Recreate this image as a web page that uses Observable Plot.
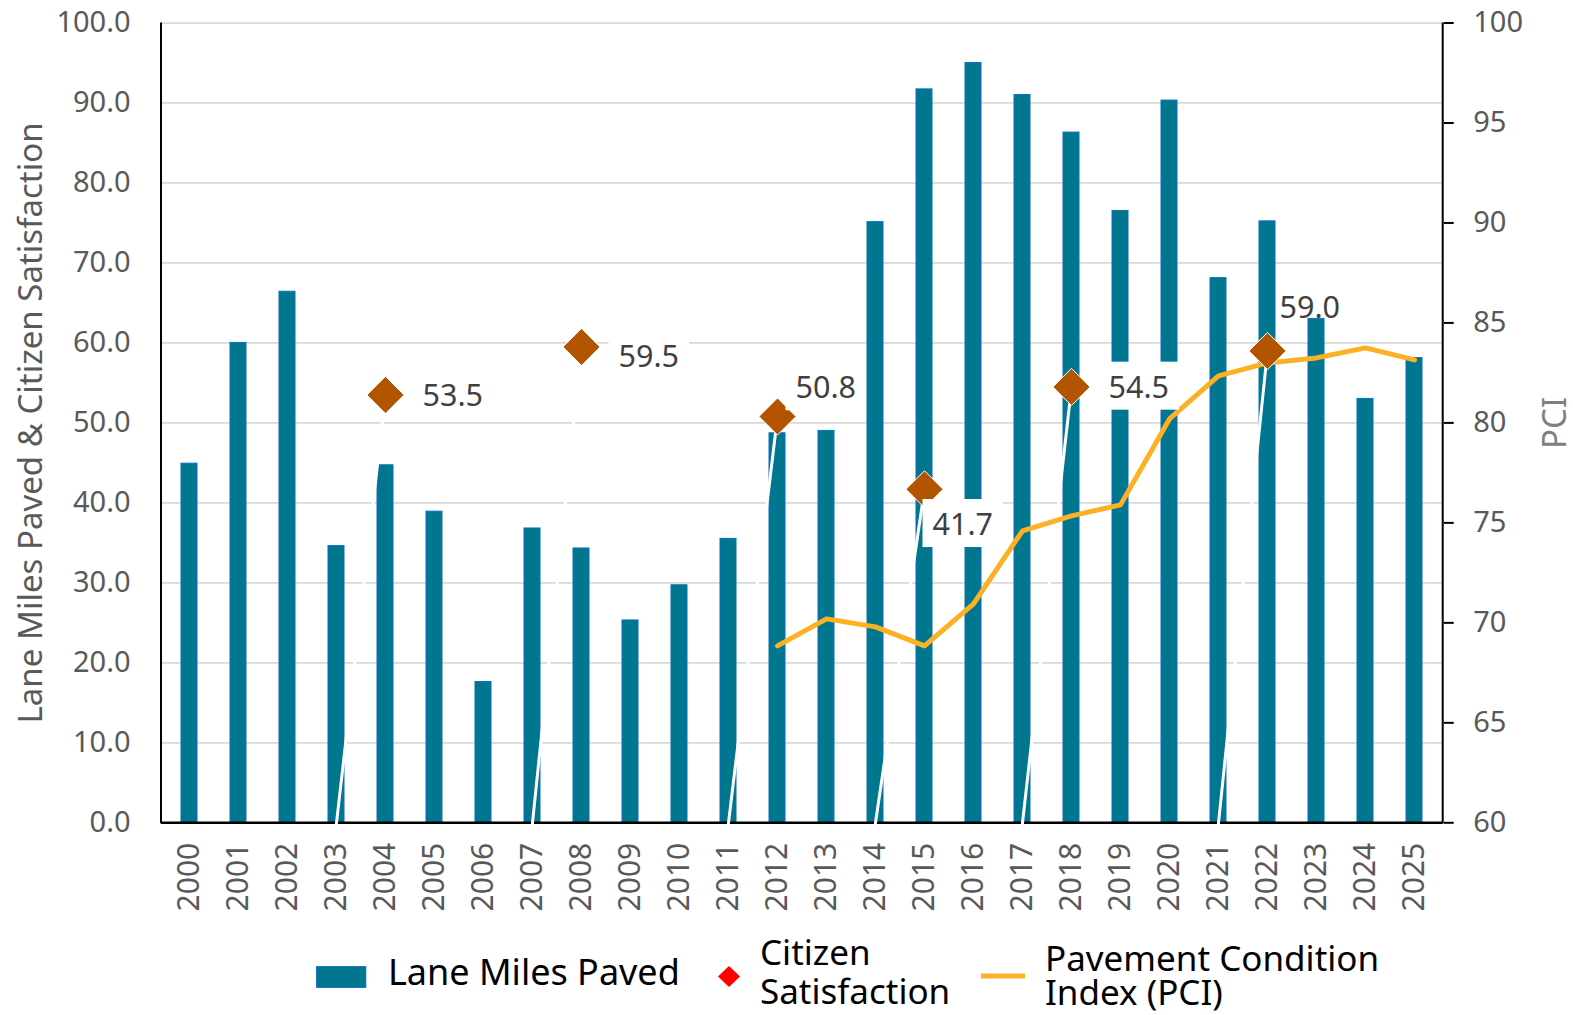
<!DOCTYPE html>
<html>
<head>
<meta charset="utf-8">
<script src="https://cdn.jsdelivr.net/npm/d3@7"></script>
<script src="https://cdn.jsdelivr.net/npm/@observablehq/plot@0.6"></script>
<style>
  html, body { margin: 0; padding: 0; background: #ffffff; }
  #chart svg { display: block; }
</style>
</head>
<body>
<div id="chart"></div>
<script>
// ---------------- DATA ----------------
const years = [2000, 2001, 2002, 2003, 2004, 2005, 2006, 2007, 2008, 2009, 2010, 2011, 2012,
               2013, 2014, 2015, 2016, 2017, 2018, 2019, 2020, 2021, 2022, 2023, 2024, 2025];
const laneMilesPaved = [44.9, 60.0, 66.4, 34.6, 44.7, 38.9, 17.6, 36.8, 34.3, 25.3, 29.7, 35.5, 48.7,
                        49.0, 75.1, 91.7, 95.0, 91.0, 86.3, 76.5, 90.3, 68.1, 75.2, 63.0, 53.0, 58.1];
const satisfactionYears = [2004, 2008, 2012, 2015, 2018, 2022];
const satisfactionValues = [53.5, 59.5, 50.8, 41.7, 54.5, 59.0];
const pciYears = [2012, 2013, 2014, 2015, 2016, 2017, 2018, 2019, 2020, 2021, 2022, 2023, 2024, 2025];
const pciValues = [68.85, 70.2, 69.8, 68.85, 70.95, 74.6, 75.35, 75.9, 80.2, 82.35, 83.0, 83.25, 83.75, 83.15];
const leftTicks = [0, 10, 20, 30, 40, 50, 60, 70, 80, 90, 100];
const pciTicks = [60, 65, 70, 75, 80, 85, 90, 95, 100];
const leftTitle = "Lane Miles Paved & Citizen Satisfaction";
const rightTitle = "PCI";
const legendLabels = [["Lane Miles Paved"], ["Citizen", "Satisfaction"], ["Pavement Condition", "Index (PCI)"]];

// ---------------- LAYOUT / STYLE ----------------
const W = 1573, H = 915, TOTAL_H = 1015;
const FONT = "'Noto Sans', 'Open Sans', sans-serif";
const colors = { bar: "#00768F", barEdge: "#0A6FC0", sat: "#B35400", pci: "#FCB124", grid: "#d9d9d9", tick: "#595959", label: "#404040" };
// per-label placement of the satisfaction data labels (pixel offsets from the marker)
const labelLayout = {
  2004: { dx: 37, dy: 1, box: true },
  2008: { dx: 37, dy: 10, box: true },
  2012: { dx: 18, dy: -28, box: true },
  2015: { dx: 8, dy: 36, box: true },
  2018: { dx: 37, dy: 1, box: true },
  2022: { dx: 12, dy: -43, box: false }
};

// ---------------- DERIVED TABLES ----------------
const toLeft = d3.scaleLinear([60, 100], [0, 100]); // PCI (right axis) -> left axis units
const bars = years.map((year, i) => ({ year, miles: laneMilesPaved[i] }));
const sat = satisfactionYears.map((year, i) => ({
  year, value: satisfactionValues[i], prev: years[years.indexOf(year) - 1]
}));
const pci = pciYears.map((year, i) => ({ year, pci: pciValues[i], left: toLeft(pciValues[i]) }));
const fmtLabel = v => v.toFixed(1);
const boxedTexts = new Set(sat.filter(d => labelLayout[d.year].box).map(d => fmtLabel(d.value)));

function frameSides(...args) {
  const dims = args.find(a => a && typeof a === "object" && "marginLeft" in a && "width" in a);
  const g = d3.create("svg:g");
  const { width, height, marginLeft, marginRight, marginTop, marginBottom } = dims;
  for (const x of [marginLeft, width - marginRight]) {
    g.append("line").attr("x1", x).attr("x2", x)
      .attr("y1", marginTop).attr("y2", height - marginBottom + 1)
      .attr("stroke", "#000").attr("stroke-width", 2);
  }
  return g.node();
}

const labelMarks = sat.map(d => {
  const L = labelLayout[d.year];
  return Plot.text([d], {
    x: "year", y: "value", text: v => fmtLabel(v.value),
    dx: L.dx, dy: L.dy, textAnchor: "start", lineAnchor: "middle",
    fontSize: 30.5, fill: colors.label
  });
});

const chart = Plot.plot({
  width: W, height: H,
  marginTop: 22.5, marginBottom: H - 822.3, marginLeft: 161, marginRight: W - 1442.7,
  style: { fontFamily: FONT, background: "#ffffff", overflow: "visible" },
  x: { type: "band", domain: years, paddingInner: 0.675, paddingOuter: 0.3375 },
  y: { domain: [0, 100] },
  marks: [
    Plot.ruleY(leftTicks.filter(d => d > 0), { stroke: colors.grid, strokeWidth: 1.75 }),
    Plot.barY(bars, { x: "year", y: "miles", fill: colors.bar, stroke: colors.barEdge, strokeWidth: 1 }),
    Plot.ruleY([0], { stroke: "#000", strokeWidth: 2.5 }),
    frameSides,
    Plot.link(sat, { x1: "prev", y1: () => 0, x2: "year", y2: "value", stroke: "#ffffff", strokeWidth: 3, strokeLinecap: "square" }),
    Plot.line(pci, { x: "year", y: "left", stroke: colors.pci, strokeWidth: 5, strokeLinejoin: "round", strokeLinecap: "round" }),
    Plot.dot(sat, { x: "year", y: "value", symbol: "diamond2", r: 16.7, fill: colors.sat, stroke: "#ffffff", strokeWidth: 1 }),
    ...labelMarks,
    Plot.axisY(leftTicks, { anchor: "left", tickSize: 0, tickPadding: 31, tickFormat: d => d.toFixed(1), fontSize: 29, fill: colors.tick, label: null }),
    Plot.axisY(pciTicks.map(toLeft), { anchor: "right", tickSize: 10, tickPadding: 20, tickFormat: d => String(Math.round(toLeft.invert(d))), fontSize: 29, fill: colors.tick, stroke: "#000", strokeWidth: 2, label: null }),
    Plot.axisX(years, { anchor: "bottom", tickSize: 0, tickPadding: 20, tickRotate: -90, tickFormat: d => String(d), fontSize: 30, fill: colors.tick, label: null }),
    Plot.text([leftTitle], { frameAnchor: "left", rotate: -90, dx: -130, textAnchor: "middle", lineAnchor: "middle", fontSize: 33, fill: colors.tick }),
    Plot.text([rightTitle], { frameAnchor: "right", rotate: -90, dx: 112, textAnchor: "middle", lineAnchor: "middle", fontSize: 33, fill: "#7f7f7f" })
  ]
});

document.getElementById("chart").appendChild(chart);

// white boxes behind the boxed data labels
chart.querySelectorAll("text").forEach(function (t) {
  if (!boxedTexts.has(t.textContent)) return;
  const g = t.closest("g");
  if (!g || g.getAttribute("fill") !== colors.label) return;
  const b = t.getBBox();
  const padX = 10, padY = 3;
  const r = document.createElementNS("http://www.w3.org/2000/svg", "rect");
  r.setAttribute("x", b.x - padX); r.setAttribute("y", b.y - padY);
  r.setAttribute("width", b.width + 2 * padX); r.setAttribute("height", b.height + 2 * padY);
  r.setAttribute("fill", "#ffffff");
  const tr = t.getAttribute("transform");
  if (tr) r.setAttribute("transform", tr);
  t.parentNode.insertBefore(r, t);
});

// ---------------- LEGEND (below the chart) ----------------
const top0 = H; // legend svg starts at this page y
const legend = d3.select("#chart").append("svg")
  .attr("width", W).attr("height", TOTAL_H - H)
  .style("display", "block")
  .attr("font-family", FONT).attr("font-size", 35).attr("fill", "#000");
const ly = y => y - top0; // page y -> legend y

function multiline(x, y, lines, lineStep, size) {
  const t = legend.append("text").attr("x", x).attr("y", ly(y));
  if (size) t.attr("font-size", size);
  lines.forEach((s, i) => t.append("tspan").attr("x", x).attr("dy", i === 0 ? 0 : lineStep).text(s));
  return t;
}

legend.append("rect").attr("x", 316.7).attr("y", ly(966.7)).attr("width", 49).attr("height", 20.6)
  .attr("fill", colors.bar).attr("stroke", colors.barEdge).attr("stroke-width", 1.2);
multiline(388, 985, legendLabels[0], 0, 36);

legend.append("path").attr("transform", `translate(729,${ly(976.5)})`)
  .attr("d", "M0,-10.5 L11,0 L0,10.5 L-11,0 Z").attr("fill", "#ff0000");
multiline(760, 965, legendLabels[1], 39);

legend.append("rect").attr("x", 981).attr("y", ly(973.5)).attr("width", 44).attr("height", 5).attr("fill", colors.pci);
multiline(1045, 971, legendLabels[2], 33.5);
</script>
</body>
</html>
